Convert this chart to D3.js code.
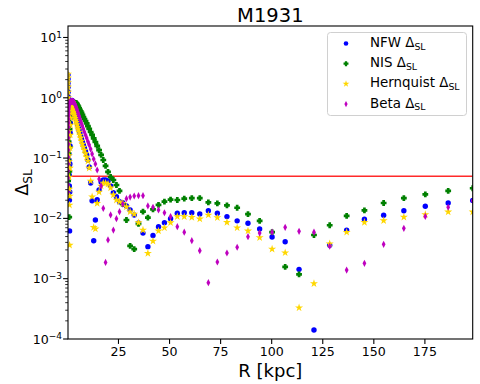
<!DOCTYPE html>
<html><head><meta charset="utf-8">
<script src="https://cdn.jsdelivr.net/npm/d3@7"></script>
<style>body{margin:0;background:#fff}svg{display:block;font-family:"DejaVu Sans",sans-serif}</style>
</head><body><div id="chart"></div>
<script>
const R = [0.291,0.309,0.329,0.350,0.373,0.397,0.422,0.449,0.478,0.509,
 0.541,0.576,0.613,0.652,0.694,0.739,0.786,0.836,0.890,0.947,
 1.008,1.072,1.141,1.214,1.292,1.375,1.463,1.557,1.657,1.763,
 1.876,1.996,2.12,2.26,2.41,2.56,2.72,2.90,3.08,3.28,
 3.49,3.71,3.95,4.21,4.48,4.76,5.07,5.39,5.74,6.11,
 6.50,6.91,7.36,7.83,8.33,8.87,9.43,10.04,10.68,11.37,
 12.10,12.87,13.70,14.57,15.51,16.50,17.56,18.68,19.88,21.15,
 22.5,24.0,25.5,27.1,28.9,30.7,32.7,34.8,37.0,39.4,
 41.9,44.6,47.5,50.5,53.8,57.2,60.9,64.8,69.0,73.4,
 78.1,83.1,88.4,94.1,100.2,106.6,113.4,120.7,128.4,136.7,
 145.4,154.8,164.7,175.2,186.4,198.4];
const nfw = [2.4,2.05,1.76,1.51,1.25,1.03,0.852,0.704,0.582,0.462,
 0.368,0.292,0.233,0.185,0.147,0.117,0.093,0.074,0.0524,0.0345,
 0.0202,0.0062,0.0274,0.080,0.159,0.261,0.382,0.50,0.604,0.704,
 0.79,0.852,0.885,0.902,0.885,0.82,0.774,0.731,0.678,0.628,
 0.582,0.539,0.50,0.462,0.428,0.39,0.354,0.322,0.292,0.261,
 0.233,0.207,0.185,0.165,0.147,0.129,0.113,0.093,0.0712,0.0387,
 0.0196,0.00427,0.0094,0.0204,0.0296,0.0401,0.0433,0.0433,0.0417,0.0345,
 0.0267,0.0229,0.0189,0.0182,0.0161,0.0138,0.0114,0.0084,0.0057,0.0034,
 0.0052,0.0073,0.0085,0.0099,0.0122,0.0124,0.0124,0.0118,0.0134,0.0122,
 0.0107,0.0091,0.0083,0.0067,0.0049,0.0041,0.00143,0.000141,0.0036,0.0064,
 0.0097,0.0113,0.0134,0.0159,0.018,0.0198];
const nis = [0.024,0.032,0.042,0.054,0.071,0.092,0.12,0.152,0.19,0.24,
 0.29,0.34,0.39,0.45,0.5,0.56,0.6,0.62,0.0105,0.06,
 0.15,0.3,0.45,0.56,0.64,0.7,0.74,0.77,0.79,0.8,
 0.81,0.815,0.82,0.825,0.83,0.83,0.83,0.83,0.83,0.836,
 0.82,0.82,0.82,0.82,0.804,0.774,0.745,0.704,0.665,0.628,
 0.593,0.56,0.519,0.48,0.445,0.412,0.375,0.34,0.304,0.271,
 0.242,0.212,0.185,0.159,0.136,0.113,0.093,0.074,0.0589,0.0486,
 0.0433,0.0358,0.0285,0.0173,0.0094,0.0035,0.0031,0.0081,0.0129,0.0103,
 0.0141,0.0167,0.0189,0.0204,0.0202,0.0212,0.0216,0.0216,0.0185,0.0178,
 0.0165,0.015,0.0118,0.0091,0.0059,0.00157,0.00118,0.0053,0.0077,0.011,
 0.0136,0.018,0.0216,0.0251,0.0285,0.0316];
const hernquist = [2.48,2.13,1.79,1.51,1.25,1.01,0.82,0.678,0.549,0.437,
 0.347,0.276,0.22,0.175,0.139,0.11,0.0878,0.0685,0.0486,0.0307,
 0.0167,0.0036,0.0235,0.0685,0.147,0.242,0.354,0.462,0.56,0.652,
 0.731,0.79,0.82,0.836,0.82,0.76,0.718,0.678,0.628,0.582,
 0.539,0.50,0.462,0.428,0.397,0.361,0.328,0.298,0.271,0.242,
 0.216,0.192,0.171,0.153,0.136,0.119,0.104,0.0895,0.0685,0.0417,
 0.0229,0.0071,0.0067,0.0178,0.0274,0.0345,0.0387,0.0387,0.0372,0.032,
 0.0245,0.0202,0.0189,0.0178,0.0155,0.0129,0.0118,0.0085,0.0064,0.00264,
 0.0042,0.0062,0.007,0.0085,0.0107,0.0107,0.0104,0.0098,0.0114,0.0103,
 0.0086,0.007,0.0062,0.0048,0.0031,0.0027,0.00033,0.00083,0.0038,0.0059,
 0.0086,0.0092,0.0105,0.0116,0.0128,0.0128];
const beta = [0.0274,0.0358,0.0468,0.0611,0.080,0.104,0.136,0.171,0.216,0.271,
 0.328,0.382,0.445,0.519,0.582,0.652,0.704,0.745,0.774,0.804,
 0.82,0.83,0.835,0.84,0.845,0.85,0.85,0.855,0.86,0.86,
 0.865,0.865,0.87,0.87,0.87,0.868,0.866,0.862,0.852,0.836,
 0.804,0.774,0.745,0.704,0.665,0.628,0.582,0.539,0.50,0.454,
 0.412,0.375,0.34,0.304,0.271,0.242,0.216,0.188,0.165,0.141,
 0.117,0.0966,0.080,0.0635,0.045,0.0345,0.0147,0.00186,0.0044,0.0114,
 0.0064,0.0099,0.0129,0.0173,0.0212,0.0226,0.0235,0.0238,0.0238,0.0161,
 0.0153,0.0138,0.0124,0.0107,0.0073,0.0059,0.00427,0.00292,0.000858,0.00189,
 0.00267,0.00332,0.00497,0.0057,0.0059,0.0071,0.0061,0.0059,0.00345,0.00139,
 0.0018,0.00372,0.00685,0.0108,0.0153,0.0196];
const threshold = 0.05;
const xTicks = [25,50,75,100,125,150,175];
const yTicks = [1e-4,1e-3,1e-2,1e-1,1,10];
const yTickExp = ["\u22124","\u22123","\u22122","\u22121","0","1"];
const seriesNames = ["NFW","NIS","Hernquist","Beta"];
const title = "M1931";

const W=480,H=384;
const L=68,Rt=472.7,T=26,B=339;
const svg=d3.select("#chart").append("svg").attr("width",W).attr("height",H);
const x=d3.scaleLinear().domain([d3.min(R),d3.max(R)]).range([L,Rt]);
const y=d3.scaleLog().domain([1e-4,15.5]).range([B,T]);

svg.append("defs").append("clipPath").attr("id","clip").append("rect")
  .attr("x",L).attr("y",T).attr("width",Rt-L).attr("height",B-T);

const plus = (a,t)=>`M${-t},${-a}H${t}V${-t}H${a}V${t}H${t}V${a}H${-t}V${t}H${-a}V${-t}H${-t}Z`;
const markers = {
  NFW:{color:"#0000ff", draw:(g)=>g.append("circle").attr("r",2.7)},
  NIS:{color:"#008000", draw:(g)=>g.append("path").attr("d",plus(2.9,1.35))},
  Hernquist:{color:"#ffd700", draw:(g)=>g.append("path").attr("d",d3.symbol(d3.symbolStar,20)())},
  Beta:{color:"#bf00bf", draw:(g)=>g.append("path").attr("d","M0,-3.6L1.9,0L0,3.6L-1.9,0Z")}
};
const seriesData = {NFW:nfw,NIS:nis,Hernquist:hernquist,Beta:beta};

const plot=svg.append("g").attr("clip-path","url(#clip)");
plot.append("line").attr("x1",L).attr("x2",Rt).attr("y1",y(threshold)).attr("y2",y(threshold))
  .attr("stroke","#ff2a2a").attr("stroke-width",1.5);

seriesNames.forEach(name=>{
  const m=markers[name];
  const g=plot.append("g").attr("fill",m.color);
  seriesData[name].forEach((v,i)=>{
    const p=g.append("g").attr("transform",`translate(${x(R[i])},${y(v)})`);
    m.draw(p);
  });
});

// axes
const ax=svg.append("g").attr("font-size","12.6px").attr("fill","#000");
xTicks.forEach(t=>{
  ax.append("line").attr("x1",x(t)).attr("x2",x(t)).attr("y1",B).attr("y2",B+4.9).attr("stroke","#000").attr("stroke-width",1.1);
  ax.append("text").attr("x",x(t)).attr("y",355.6).attr("text-anchor","middle").text(t);
});
yTicks.forEach((t,i)=>{
  ax.append("line").attr("x1",L-4.9).attr("x2",L).attr("y1",y(t)).attr("y2",y(t)).attr("stroke","#000").attr("stroke-width",1.1);
  const tx=ax.append("text").attr("x",62).attr("y",y(t)+4.8).attr("text-anchor","end");
  tx.append("tspan").text("10");
  tx.append("tspan").attr("dy","-0.5em").attr("font-size","9px").text(yTickExp[i]);
  for(let k=2;k<=9;k++){
    const v=t*k; if(v>15.5) break;
    ax.append("line").attr("x1",L-2.8).attr("x2",L).attr("y1",y(v)).attr("y2",y(v)).attr("stroke","#000").attr("stroke-width",0.8);
  }
});
svg.append("rect").attr("x",L).attr("y",T).attr("width",Rt-L).attr("height",B-T)
  .attr("fill","none").attr("stroke","#000").attr("stroke-width",1.1);

// labels
svg.append("text").attr("x",(L+Rt)/2).attr("y",22).attr("text-anchor","middle").attr("font-size","19.5px").text(title);
svg.append("text").attr("x",(L+Rt)/2).attr("y",376.5).attr("text-anchor","middle").attr("font-size","18px").text("R [kpc]");
const yl=svg.append("text").attr("transform",`translate(28,${(T+B)/2}) rotate(-90)`).attr("text-anchor","middle").attr("font-size","17.5px");
yl.append("tspan").text("\u0394");
yl.append("tspan").attr("dy","0.3em").attr("font-size","12.3px").text("SL");

// legend
const lg=svg.append("g");
lg.append("rect").attr("x",327.5).attr("y",32.5).attr("width",139).attr("height",83).attr("rx",3)
  .attr("fill","#fff").attr("fill-opacity",0.8).attr("stroke","#d0d0d0").attr("stroke-width",1);
seriesNames.forEach((name,i)=>{
  const cy=43.5+i*20.2;
  const m=markers[name];
  const p=lg.append("g").attr("fill",m.color).attr("transform",`translate(346,${cy}) scale(0.85)`);
  m.draw(p);
  const t=lg.append("text").attr("x",370).attr("y",cy+3.5).attr("font-size","13.4px");
  t.append("tspan").text(name+" \u0394");
  t.append("tspan").attr("dy","0.3em").attr("font-size","9.4px").text("SL");
});
</script></body></html>
